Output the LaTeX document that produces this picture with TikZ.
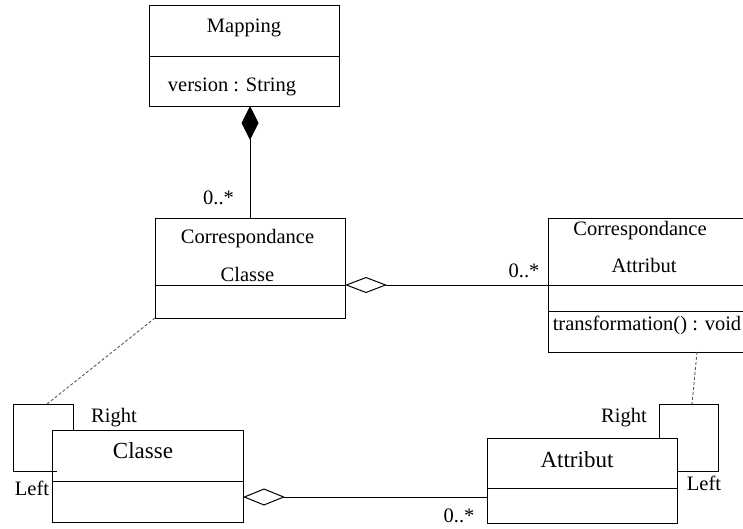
\documentclass[tikz,border=0pt]{standalone}
\usepackage{fontspec}
\setmainfont{Liberation Serif}
\usetikzlibrary{arrows.meta}
\begin{document}
\begin{tikzpicture}[x=1pt,y=-1pt,
  part/.style={draw, line width=1pt, anchor=north west, inner sep=0pt, outer sep=0pt},
  txt/.style={font=\fontsize{20.5}{24}\selectfont, inner sep=0pt, anchor=base},
  bigtxt/.style={font=\fontsize{23}{27}\selectfont, inner sep=0pt, anchor=base},
  conn/.style={line width=1pt},
  trace/.style={line width=0.9pt, dash pattern=on 3pt off 2pt, draw=black!65}]
\useasboundingbox (0,0) rectangle (743,528);

% Mapping
\node[part, minimum width=190pt, minimum height=51pt] (maph) at (149,5) {};
\node[part, minimum width=190pt, minimum height=50pt] (mapa) at (149,56) {};
\node[txt] (mapn) at (244,32) {Mapping};
\node[txt] (mapv) at (232,91) {version : String};

% CorrespondanceClasse
\node[part, minimum width=190pt, minimum height=67pt] (cch) at (155,218) {};
\node[part, minimum width=190pt, minimum height=33pt] (ccb) at (155,285) {};
\node[txt] (ccn1) at (247.5,243) {Correspondance};
\node[txt] (ccn2) at (247.5,281) {Classe};

% CorrespondanceAttribut
\node[part, minimum width=197pt, minimum height=67pt] (cah) at (548,218) {};
\node[part, minimum width=197pt, minimum height=26pt] (caa) at (548,285) {};
\node[part, minimum width=197pt, minimum height=41pt] (cao) at (548,311) {};
\node[txt] (can1) at (640,235) {Correspondance};
\node[txt] (can2) at (644,272) {Attribut};
\node[txt] (caop) at (647,330) {transformation() : void};

% Classe
\node[part, minimum width=191pt, minimum height=51pt] (clh) at (52,430) {};
\node[part, minimum width=191pt, minimum height=41pt] (clb) at (52,481) {};
\node[bigtxt] (cln) at (143,458) {Classe};

% Attribut
\node[part, minimum width=190pt, minimum height=50pt] (ath) at (487,438) {};
\node[part, minimum width=190pt, minimum height=35pt] (atb) at (487,488) {};
\node[bigtxt] (atn) at (577,467) {Attribut};

% composition Mapping -- CorrespondanceClasse
\draw[conn, -{Diamond[length=34pt,width=17pt]}] (cch.north) -- (cch.north |- mapa.south);
\node[txt] (m1) at (218.5,204) {0..*};

% aggregation CorrespondanceClasse -- CorrespondanceAttribut
\draw[conn, {Diamond[open,length=42pt,width=16pt,fill=white]}-] (cch.south east) -- (cah.south west);
\node[txt] (m2) at (524,277) {0..*};

% aggregation Classe -- Attribut
\draw[conn, {Diamond[open,length=42pt,width=17pt,fill=white]}-]
  ([yshift=4.5pt]clb.east) -- ([yshift=4.5pt]clb.east -| atb.west);
\node[txt] (m3) at (459,522) {0..*};

% reflexive link on Classe
\coordinate (loopL) at (13,404);
\draw[conn] ([xshift=21pt]clh.north west) |- (loopL) |- ([xshift=5pt,yshift=-41pt]clh.north west);
\node[txt] (rl) at (114,422) {Right};
\node[txt] (ll) at (32,495) {Left};
\coordinate (tL) at (47,404);
\draw[trace] (ccb.south west) -- (tL);

% reflexive link on Attribut
\coordinate (loopR) at (718,404);
\draw[conn] ([xshift=-18pt]ath.north east) |- (loopR) |- ([yshift=-33pt]ath.north east);
\node[txt] (rr) at (624,422) {Right};
\node[txt] (lr) at (704,490) {Left};
\coordinate (tR) at (692,404);
\draw[trace] ([xshift=149pt]cao.south west) -- (tR);
\end{tikzpicture}
\end{document}
